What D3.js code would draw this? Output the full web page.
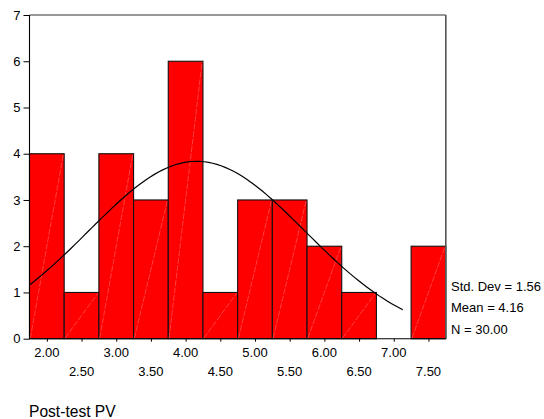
<!DOCTYPE html>
<html>
<head>
<meta charset="utf-8">
<script src="https://cdn.jsdelivr.net/npm/d3@7"></script>
<style>
  html, body { margin: 0; padding: 0; background: #fff; }
  svg { display: block; font-family: "Liberation Sans", Arial, sans-serif; }
</style>
</head>
<body>
<svg id="chart" width="544" height="419"></svg>
<script>
// Histogram of Post-test PV, bin width 0.5
const binCenters = [2.00, 2.50, 3.00, 3.50, 4.00, 4.50, 5.00, 5.50, 6.00, 6.50, 7.00, 7.50];
const binCounts  = [4, 1, 4, 3, 6, 1, 3, 3, 2, 1, 0, 2];
const binLabels  = ["2.00", "2.50", "3.00", "3.50", "4.00", "4.50", "5.00", "5.50", "6.00", "6.50", "7.00", "7.50"];
const yTicks = [0, 1, 2, 3, 4, 5, 6, 7];
const stats = { mean: 4.16, sd: 1.56, n: 30 };
const statLines = ["Std. Dev = 1.56", "Mean = 4.16", "N = 30.00"];
const binWidth = 0.5;
const curveRange = [1.75, 7.13];

const svg = d3.select("#chart");
const plotL = 29.5, plotR = 445.8, plotT = 15, plotB = 338.7;

const x = d3.scaleLinear().domain([1.75, 7.75]).range([plotL, plotR]);
const y = d3.scaleLinear().domain([0, 7]).range([plotB, plotT]);

// bars
const bars = svg.append("g");
binCenters.forEach((c, i) => {
  if (binCounts[i] === 0) return;
  const x0 = x(c - binWidth / 2), x1 = x(c + binWidth / 2);
  const y0 = y(0), y1 = y(binCounts[i]);
  bars.append("rect")
    .attr("x", x0).attr("y", y1)
    .attr("width", x1 - x0).attr("height", y0 - y1)
    .attr("fill", "#ff0000")
    .attr("stroke", "#111").attr("stroke-width", 1.1);
  bars.append("line")
    .attr("x1", x0 + 0.8).attr("y1", y0 - 0.5)
    .attr("x2", x1 - 0.8).attr("y2", y1 + 0.5)
    .attr("stroke", "#ffd0d0").attr("stroke-width", 0.5)
    .attr("stroke-opacity", 0.6)
    .attr("stroke-dasharray", "6,1.5");
});

// normal curve scaled to counts
const peak = stats.n * binWidth / (stats.sd * Math.sqrt(2 * Math.PI));
const curvePts = d3.range(curveRange[0], curveRange[1] + 1e-9, 0.06).concat([curveRange[1]])
  .map(v => [v, peak * Math.exp(-0.5 * Math.pow((v - stats.mean) / stats.sd, 2))]);
svg.append("path")
  .attr("d", d3.line().x(d => x(d[0])).y(d => y(d[1]))(curvePts))
  .attr("fill", "none").attr("stroke", "#000").attr("stroke-width", 1.2);

// frame
svg.append("line").attr("x1", plotL).attr("x2", plotR).attr("y1", plotT).attr("y2", plotT)
  .attr("stroke", "#333").attr("stroke-width", 1.2);
svg.append("line").attr("x1", plotR).attr("x2", plotR).attr("y1", plotT).attr("y2", plotB)
  .attr("stroke", "#555").attr("stroke-width", 1.6);
svg.append("line").attr("x1", plotL).attr("x2", plotL).attr("y1", plotT).attr("y2", plotB)
  .attr("stroke", "#000").attr("stroke-width", 1.1);
svg.append("line").attr("x1", plotL).attr("x2", plotR).attr("y1", plotB).attr("y2", plotB)
  .attr("stroke", "#000").attr("stroke-width", 1.1);

// y axis
const yAxis = svg.append("g").attr("transform", `translate(${plotL},0)`)
  .call(d3.axisLeft(y).tickValues(yTicks).tickSize(6).tickPadding(3).tickFormat(d3.format("d")));
yAxis.select(".domain").remove();
yAxis.selectAll("line").attr("stroke", "#000");
yAxis.selectAll("text").attr("font-size", 13).attr("fill", "#000")
  .attr("font-family", "Liberation Sans, Arial, sans-serif");

// x axis ticks at bin centres
const xAxis = svg.append("g").attr("transform", `translate(0,${plotB})`)
  .call(d3.axisBottom(x).tickValues(binCenters).tickSize(3).tickFormat(""));
xAxis.select(".domain").remove();
xAxis.selectAll("line").attr("stroke", "#000");

// staggered x labels
svg.append("g").selectAll("text").data(binCenters).join("text")
  .attr("x", d => x(d))
  .attr("y", (d, i) => i % 2 === 0 ? 356.7 : 375.7)
  .attr("text-anchor", "middle")
  .attr("font-size", 13)
  .attr("fill", "#000")
  .text((d, i) => binLabels[i]);

// summary statistics
svg.append("g").selectAll("text").data(statLines).join("text")
  .attr("x", 451)
  .attr("y", (d, i) => 290.7 + i * 21.5)
  .attr("font-size", 13)
  .attr("fill", "#000")
  .text(d => d);

// variable name
svg.append("text")
  .attr("x", 29).attr("y", 416.5)
  .attr("font-size", 15.6)
  .attr("fill", "#000")
  .text("Post-test PV");
</script>
</body>
</html>
